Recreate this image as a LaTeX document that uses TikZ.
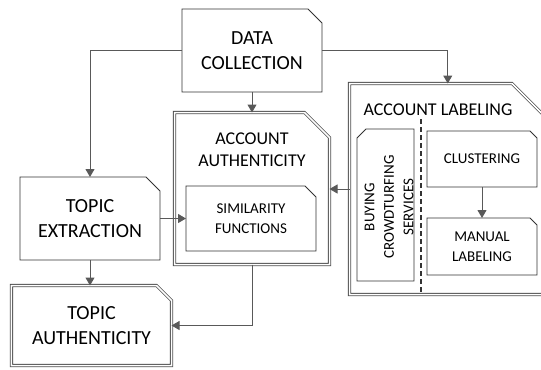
\documentclass[tikz,border=0pt]{standalone}
\usepackage{fontspec}
\setmainfont{Carlito}
\usetikzlibrary{arrows.meta}

\tikzset{
  blk/.style={rectangle, draw=none, inner sep=0pt, outer sep=0pt},
  cut/.style={draw=black!80, line width=0.8bp},
  dcut/.style={draw=black!70, line width=0.8bp, double, double distance=1.5bp},
  big/.style={font=\fontsize{20bp}{25bp}\selectfont, align=center},
  mid/.style={font=\fontsize{18bp}{22bp}\selectfont, align=center},
  small/.style={font=\fontsize{15bp}{19.5bp}\selectfont, align=center},
  conn/.style={draw=black!65, line width=1bp, -{Triangle[length=8bp,width=9bp]}}
}

% box outlines with one corner cut off
\newcommand{\necut}[3]{\draw[#1] (#2.north west) -- ([xshift=-#3]#2.north east) -- ([yshift=-#3]#2.north east) -- (#2.south east) -- (#2.south west) -- cycle;}
\newcommand{\nwcut}[3]{\draw[#1] ([yshift=-#3]#2.north west) -- ([xshift=#3]#2.north west) -- (#2.north east) -- (#2.south east) -- (#2.south west) -- cycle;}

\begin{document}
\begin{tikzpicture}[x=1bp, y=-1bp]
	\clip (0,0) rectangle (541,369);

	% plain boxes
	\node[blk, big, minimum width=140bp, minimum height=83bp] (datacoll) at (252,50.5) {DATA\\COLLECTION};
	\necut{cut}{datacoll}{14bp}
	\node[blk, big, minimum width=140bp, minimum height=83bp] (topicext) at (90,218.5) {TOPIC\\EXTRACTION};
	\necut{cut}{topicext}{14bp}

	% double boxes
	\node[blk, big, minimum width=160bp, minimum height=80bp] (topicauth) at (91.5,325.5) {TOPIC\\AUTHENTICITY};
	\necut{dcut}{topicauth}{15bp}
	\node[blk, minimum width=155bp, minimum height=152bp] (acctauth) at (252,188.5) {};
	\necut{dcut}{acctauth}{25bp}
	\node[blk, mid] (acctauthlbl) at (252,150) {ACCOUNT\\AUTHENTICITY};
	\node[blk, minimum width=196.5bp, minimum height=211bp] (acctlab) at (447.75,189) {};
	\necut{dcut}{acctlab}{34bp}
	\node[blk, mid] (acctlablbl) at (438,110) {ACCOUNT LABELING};

	% inner boxes
	\node[blk, small, minimum width=130bp, minimum height=65bp] (simfunc) at (251,218.5) {SIMILARITY\\FUNCTIONS};
	\necut{cut}{simfunc}{11bp}
	\node[blk, minimum width=57bp, minimum height=152bp] (buying) at (385.5,205) {};
	\nwcut{cut}{buying}{9bp}
	\node[blk, small, rotate=90] (buyinglbl) at (389,207) {BUYING\\CROWDTURFING\\SERVICES};
	\node[blk, small, minimum width=110bp, minimum height=56bp] (clustering) at (482,159) {CLUSTERING};
	\necut{cut}{clustering}{7bp}
	\node[blk, small, minimum width=110bp, minimum height=57bp] (manual) at (482,246.5) {MANUAL\\LABELING};
	\necut{cut}{manual}{7bp}

	% divider
	\draw[black!80, line width=1.2bp, dash pattern=on 5bp off 3bp] (421,119) -- (421,295);

	% arrows
	\draw[conn] (datacoll.west) -| (topicext.north);
	\draw[conn] (datacoll.east) -| (acctlab.north);
	\draw[conn] (datacoll.south) -- (acctauth.north);
	\draw[conn] (topicext.east) -- (simfunc.west);
	\draw[conn] (topicext.south) -- (topicext.south |- topicauth.north);
	\draw[conn] (acctauth.south) |- (topicauth.east);
	\draw[conn] (acctlab.west) -- (acctlab.west -| acctauth.east);
	\draw[conn] (clustering.south) -- (manual.north);
\end{tikzpicture}
\end{document}
